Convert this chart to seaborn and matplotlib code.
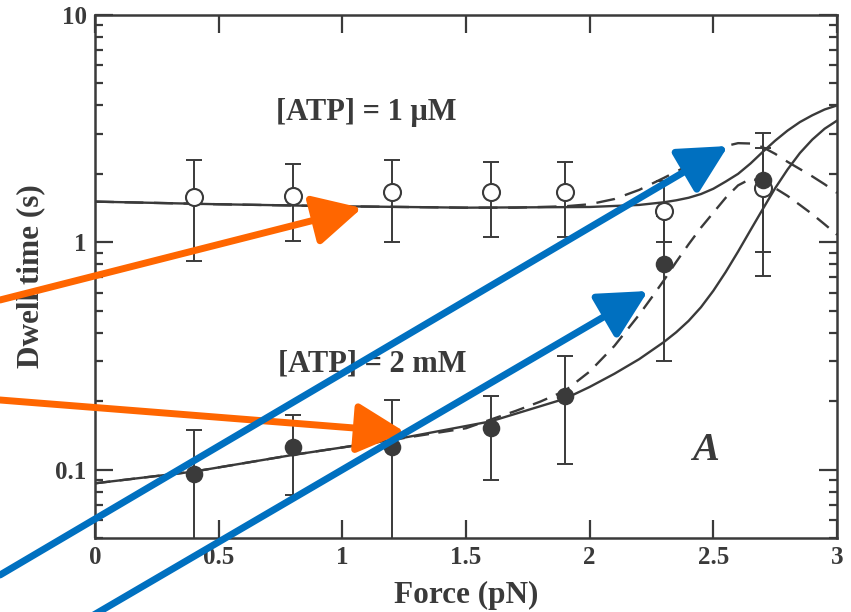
import matplotlib
matplotlib.use("Agg")
import matplotlib.pyplot as plt
import matplotlib.ticker as mticker
import numpy as np
import pandas as pd
import seaborn as sns

# ---------------- data ----------------
force_pts = [0.4, 0.8, 1.2, 1.6, 1.9, 2.3, 2.7]
# [ATP] = 1 uM, open circles
low_atp = [1.58, 1.60, 1.66, 1.66, 1.66, 1.37, 1.74]
low_lo = [0.83, 1.01, 1.00, 1.05, 1.05, 1.00, 0.91]
low_hi = [2.31, 2.20, 2.31, 2.26, 2.26, 1.87, 2.60]
# [ATP] = 2 mM, filled circles
high_atp = [0.096, 0.126, 0.126, 0.153, 0.211, 0.80, 1.88]
high_lo = [0.040, 0.077, 0.040, 0.090, 0.106, 0.30, 0.71]
high_hi = [0.150, 0.174, 0.203, 0.211, 0.316, 1.30, 3.03]

# model curves
s1_x = [0, 0.5, 1.0, 1.5, 2.0, 2.2, 2.3, 2.35, 2.4, 2.45, 2.5, 2.55, 2.6, 2.65, 2.7, 2.75,
        2.8, 2.85, 2.9, 2.95, 3.0]
s1_y = [1.51, 1.47, 1.44, 1.42, 1.43, 1.46, 1.50, 1.53, 1.57, 1.63, 1.72, 1.85, 2.0, 2.22,
        2.5, 2.8, 3.1, 3.38, 3.62, 3.84, 4.0]
d1_x = [0, 0.5, 1.0, 1.5, 1.7, 1.8, 1.9, 2.0, 2.1, 2.2, 2.3, 2.4, 2.45, 2.5, 2.55, 2.6,
        2.65, 2.7, 2.75, 2.8, 2.85, 2.9, 2.95, 3.0]
d1_y = [1.51, 1.47, 1.44, 1.42, 1.42, 1.43, 1.44, 1.47, 1.55, 1.70, 1.92, 2.18, 2.34, 2.50,
        2.65, 2.73, 2.72, 2.62, 2.45, 2.26, 2.10, 1.95, 1.80, 1.65]
s2_x = [0, 0.4, 0.8, 1.2, 1.6, 1.9, 2.0, 2.1, 2.2, 2.3, 2.35, 2.4, 2.45, 2.5, 2.55, 2.6,
        2.65, 2.7, 2.75, 2.8, 2.85, 2.9, 2.95, 3.0]
s2_y = [0.087, 0.098, 0.116, 0.135, 0.163, 0.205, 0.231, 0.264, 0.306, 0.364, 0.402, 0.451,
        0.518, 0.612, 0.740, 0.910, 1.13, 1.40, 1.73, 2.09, 2.47, 2.83, 3.16, 3.43]
d2_x = [0, 0.4, 0.8, 1.2, 1.5, 1.6, 1.7, 1.8, 1.9, 2.0, 2.1, 2.15, 2.2, 2.25, 2.3, 2.35,
        2.4, 2.45, 2.5, 2.55, 2.6, 2.65, 2.7, 2.75, 2.8, 2.85, 2.9, 2.95, 3.0]
d2_y = [0.087, 0.098, 0.116, 0.135, 0.152, 0.166, 0.181, 0.199, 0.222, 0.270, 0.350, 0.41,
        0.480, 0.57, 0.680, 0.82, 0.98, 1.16, 1.35, 1.57, 1.78, 1.90, 1.86, 1.73, 1.60,
        1.46, 1.33, 1.20, 1.08]

x_ticks = [0, 0.5, 1, 1.5, 2, 2.5, 3]
x_tick_labels = ["0", "0.5", "1", "1.5", "2", "2.5", "3"]
y_ticks = [0.1, 1, 10]
y_tick_labels = ["0.1", "1", "10"]

# overlay arrows (image pixel coords: tail -> tip)
orange_arrows = [((0, 300), (362, 208)), ((0, 400), (405, 432))]
blue_arrows = [((0, 575), (728, 146)), ((92, 616), (648, 291))]

# ---------------- style ----------------
sns.set_style("ticks")
plt.rcParams["font.family"] = ["Liberation Serif", "DejaVu Serif"]
plt.rcParams["font.weight"] = "bold"
INK = "#3a3a3a"

W, H = 851, 612
fig = plt.figure(figsize=(W / 100, H / 100), dpi=100)
ax = fig.add_axes([95 / W, (H - 538) / H, (837 - 95) / W, (538 - 15) / H])

# curves
curves = pd.concat([
    pd.DataFrame({"force": s1_x, "dwell": s1_y, "curve": "s1"}),
    pd.DataFrame({"force": d1_x, "dwell": d1_y, "curve": "d1"}),
    pd.DataFrame({"force": s2_x, "dwell": s2_y, "curve": "s2"}),
    pd.DataFrame({"force": d2_x, "dwell": d2_y, "curve": "d2"}),
])
for name, ls in [("d1", (0, (8, 4.5))), ("d2", (0, (6.5, 4))), ("s1", "-"), ("s2", "-")]:
    sns.lineplot(data=curves[curves.curve == name], x="force", y="dwell", ax=ax,
                 color=INK, lw=1.7, linestyle=ls, sort=True, estimator=None, zorder=2)

# error bars
la = np.array(low_atp); ha = np.array(high_atp)
ax.errorbar(force_pts, la, yerr=[la - np.array(low_lo), np.array(low_hi) - la],
            fmt="none", ecolor=INK, elinewidth=1.4, capsize=5.5, capthick=1.4, zorder=3)
ax.errorbar(force_pts, ha, yerr=[ha - np.array(high_lo), np.array(high_hi) - ha],
            fmt="none", ecolor=INK, elinewidth=1.4, capsize=5.5, capthick=1.4, zorder=3)

pts = pd.DataFrame({"force": force_pts, "low": low_atp, "high": high_atp})
sns.scatterplot(data=pts, x="force", y="low", ax=ax, marker="o", s=150,
                facecolor="white", edgecolor=INK, linewidth=1.5, zorder=4)
sns.scatterplot(data=pts, x="force", y="high", ax=ax, marker="o", s=160,
                color=INK, edgecolor=INK, linewidth=0, zorder=5)

ax.set_yscale("log")
ax.set_xlim(0, 3)
ax.set_ylim(0.05, 10)
ax.set_xticks(x_ticks)
ax.set_xticklabels(x_tick_labels)
ax.xaxis.set_minor_locator(mticker.NullLocator())
ax.set_yticks(y_ticks)
ax.set_yticklabels(y_tick_labels)
ax.yaxis.set_minor_locator(mticker.LogLocator(base=10, subs=np.arange(2, 10)))
ax.yaxis.set_minor_formatter(mticker.NullFormatter())

ax.tick_params(which="both", direction="in", top=True, right=True, color=INK, width=1.6)
ax.tick_params(which="major", length=13, labelsize=18, labelcolor=INK, pad=6)
ax.tick_params(which="minor", length=6)
for sp in ax.spines.values():
    sp.set_visible(True)
    sp.set_color(INK)
    sp.set_linewidth(1.8)
for lab in ax.get_xticklabels() + ax.get_yticklabels():
    lab.set_fontweight("bold")

ax.set_xlabel("Force (pN)", fontsize=22.5, fontweight="bold", color=INK, labelpad=8)
ax.set_ylabel("Dwell time (s)", fontsize=22.5, fontweight="bold", color=INK, labelpad=7)

ax.text(0.73, 3.72, "[ATP] = 1 μM", fontsize=22, fontweight="bold", color=INK, va="center", ha="left")
ax.text(0.74, 0.291, "[ATP] = 2 mM", fontsize=22, fontweight="bold", color=INK, va="center", ha="left")
ax.text(2.47, 0.121, "A", fontsize=29, fontweight="bold", style="italic", color=INK, va="center", ha="center")

# overlay arrows
def draw_arrow(tail, tip, color):
    ax.annotate("", xy=(tip[0], H - tip[1]), xytext=(tail[0], H - tail[1]),
                xycoords="figure pixels", textcoords="figure pixels",
                annotation_clip=False, zorder=10,
                arrowprops=dict(arrowstyle="-|>,head_length=1.35,head_width=0.7",
                                mutation_scale=22, lw=5, color=color,
                                shrinkA=0, shrinkB=0))

for tail, tip in orange_arrows:
    draw_arrow(tail, tip, "#FF6600")
for tail, tip in blue_arrows:
    draw_arrow(tail, tip, "#0070C0")

fig.savefig("out.png", dpi=100)
